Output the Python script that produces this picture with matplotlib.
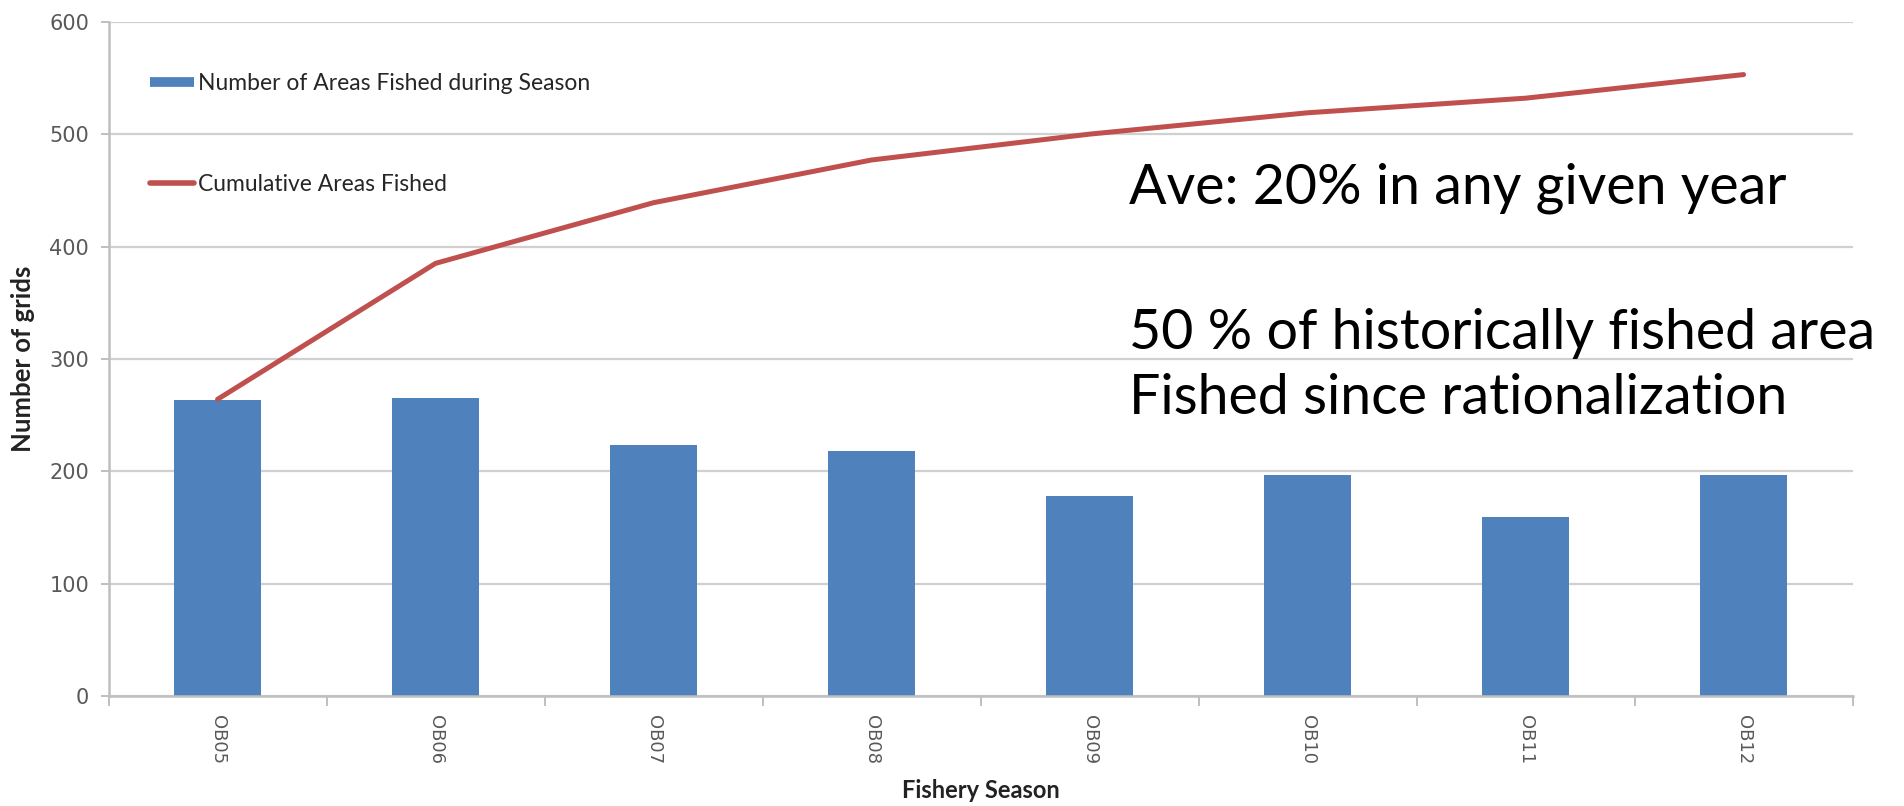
import numpy as np
import matplotlib.pyplot as plt
from matplotlib.lines import Line2D

seasons = ['OB05', 'OB06', 'OB07', 'OB08', 'OB09', 'OB10', 'OB11', 'OB12']
areas_fished = [263, 265, 223, 218, 178, 197, 159, 197]
cumulative_fished = [264, 385, 439, 477, 500, 519, 532, 553]
y_ticks = [0, 100, 200, 300, 400, 500, 600]

BLUE = '#4F81BD'
RED = '#C0504D'
GRID = '#D0D0D0'
TICK_TXT = '#595959'

fig = plt.figure(figsize=(19.04, 8.06), dpi=100)
ax = fig.add_axes([0.057, 0.1365, 0.916, 0.8365])

x = np.arange(len(seasons))
ax.bar(x, areas_fished, width=0.4, color=BLUE, zorder=2)
ax.plot(x, cumulative_fished, color=RED, lw=3.6, solid_capstyle='round',
        solid_joinstyle='round', zorder=3)

ax.set_xlim(-0.5, len(seasons) - 0.5)
ax.set_ylim(0, 600)
ax.set_yticks(y_ticks)
ax.set_yticklabels([str(v) for v in y_ticks], color=TICK_TXT, fontsize=15,
                   family='DejaVu Sans')
ax.yaxis.grid(True, color=GRID, lw=1.6, zorder=0)
ax.set_axisbelow(True)

# category labels at centres, tick marks on the category boundaries
ax.set_xticks(x)
ax.set_xticklabels(seasons, rotation=-90, color=TICK_TXT, fontsize=13,
                   family='DejaVu Sans')
ax.tick_params(axis='x', which='major', length=0, pad=14)
ax.set_xticks(np.arange(-0.5, len(seasons)), minor=True)
ax.tick_params(axis='x', which='minor', length=7, width=1.4, color='#BFBFBF',
               direction='out')
ax.tick_params(axis='y', length=6, width=1.4, color='#BFBFBF', pad=8)

for side in ['top', 'right']:
    ax.spines[side].set_visible(False)
for side in ['left', 'bottom']:
    ax.spines[side].set_color('#BFBFBF')
    ax.spines[side].set_linewidth(1.8)

ax.set_ylabel('Number of grids', fontsize=18.5, fontweight='bold',
              family='Lato', color='#222222', labelpad=10)
ax.set_xlabel('Fishery Season', fontsize=17, fontweight='bold',
              family='Lato', color='#222222', labelpad=10)

handles = [Line2D([], [], color=BLUE, lw=7, solid_capstyle='butt'),
           Line2D([], [], color=RED, lw=4, solid_capstyle='round')]
ax.legend(handles, ['Number of Areas Fished during Season', 'Cumulative Areas Fished'],
          loc='upper left', bbox_to_anchor=(0.012, 0.955), frameon=False,
          prop={'family': 'Lato', 'size': 16.5}, labelspacing=3.5,
          handlelength=1.9, handletextpad=0.2, labelcolor='#262626')

fig.text(0.593, 0.767, 'Ave: 20% in any given year', fontsize=40,
         family='Lato', va='center', ha='left')
fig.text(0.593, 0.586, '50 % of historically fished area', fontsize=40,
         family='Lato', va='center', ha='left')
fig.text(0.593, 0.506, 'Fished since rationalization', fontsize=40,
         family='Lato', va='center', ha='left')

fig.savefig('out.png', dpi=100)
